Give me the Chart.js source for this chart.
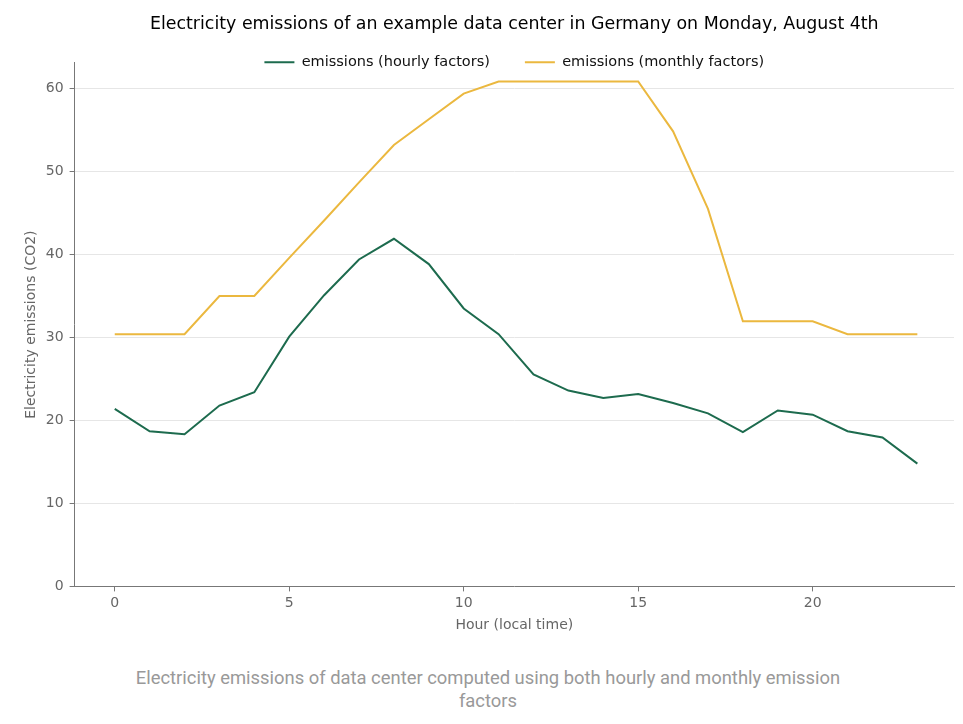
<!DOCTYPE html>
<html>
<head>
<meta charset="utf-8">
<script src="https://cdn.jsdelivr.net/npm/chart.js@4.4.1/dist/chart.umd.min.js"></script>
<style>
  body { margin: 0; background: #fff; }
  #wrap { width: 963px; height: 645px; }
  #caption {
    width: 740px;
    margin: 21px 0 0 118px;
    text-align: center;
    font-family: Roboto, sans-serif;
    font-size: 18.4px;
    line-height: 23px;
    color: #999;
  }
</style>
</head>
<body>
<div id="wrap"><canvas id="chart"></canvas></div>
<div id="caption">Electricity emissions of data center computed using both hourly and monthly emission factors</div>
<script>
const hours = [0, 1, 2, 3, 4, 5, 6, 7, 8, 9, 10, 11, 12, 13, 14, 15, 16, 17, 18, 19, 20, 21, 22, 23];
const hourlyEmissions = [21.4, 18.7, 18.35, 21.8, 23.4, 30.1, 35.1, 39.4, 41.9, 38.85, 33.5, 30.4,
  25.55, 23.6, 22.7, 23.2, 22.1, 20.85, 18.6, 21.2, 20.7, 18.7, 17.95, 14.8];
const monthlyEmissions = [30.4, 30.4, 30.4, 35.0, 35.0, 39.6, 44.1, 48.7, 53.2, 56.3, 59.4, 60.85,
  60.85, 60.85, 60.85, 60.85, 54.85, 45.5, 31.95, 31.95, 31.95, 30.4, 30.4, 30.4];
const xTicks = [0, 5, 10, 15, 20];
const yTicks = [0, 10, 20, 30, 40, 50, 60];

const FONT = "'DejaVu Sans', sans-serif";
const AXIS = "#777";

// legend overlaps the top edge of the plot: pull it up and widen its clip box
const legendNudge = {
  id: "legendNudge",
  afterLayout(chart) {
    const lg = chart.legend;
    if (lg) {
      lg.top -= 15;
      lg.bottom += 25;
    }
  },
};

const ctx = document.getElementById("chart");

new Chart(ctx, {
  type: "line",
  data: {
    datasets: [
      {
        label: "emissions (hourly factors)",
        data: hours.map((h, i) => ({ x: h, y: hourlyEmissions[i] })),
        borderColor: "#1d6b4e",
        backgroundColor: "#1d6b4e",
        borderWidth: 2,
      },
      {
        label: "emissions (monthly factors)",
        data: hours.map((h, i) => ({ x: h, y: monthlyEmissions[i] })),
        borderColor: "#ebb83f",
        backgroundColor: "#ebb83f",
        borderWidth: 2,
      },
    ],
  },
  plugins: [legendNudge],
  options: {
    responsive: true,
    maintainAspectRatio: false,
    animation: false,
    elements: {
      line: { tension: 0 },
      point: { radius: 0 },
    },
    layout: { padding: { left: 22, right: 9, top: 11, bottom: 7 } },
    plugins: {
      title: {
        display: true,
        text: "Electricity emissions of an example data center in Germany on Monday, August 4th",
        fullSize: false,
        color: "#000",
        font: { family: FONT, size: 17.4, weight: "normal" },
        padding: { top: 3, bottom: 0 },
      },
      legend: {
        position: "top",
        fullSize: false,
        maxHeight: 28,
        labels: {
          color: "#111",
          font: { family: FONT, size: 14.5 },
          boxWidth: 30,
          boxHeight: 2,
          padding: 35,
          generateLabels(chart) {
            return Chart.defaults.plugins.legend.labels
              .generateLabels(chart)
              .map((it) => ({ ...it, lineWidth: 0, fillStyle: it.strokeStyle }));
          },
        },
      },
      tooltip: { enabled: false },
    },
    scales: {
      x: {
        type: "linear",
        min: -1.15,
        max: 24.05,
        afterBuildTicks: (scale) => {
          scale.ticks = xTicks.map((v) => ({ value: v }));
        },
        grid: { drawOnChartArea: false, tickColor: AXIS, tickLength: 5 },
        border: { color: AXIS, width: 1 },
        ticks: { color: "#666", font: { family: FONT, size: 14 }, padding: 4 },
        title: {
          display: true,
          text: "Hour (local time)",
          color: "#666",
          font: { family: FONT, size: 14 },
          padding: { top: 1, bottom: 4 },
        },
      },
      y: {
        min: 0,
        max: 63.1,
        afterBuildTicks: (scale) => {
          scale.ticks = yTicks.map((v) => ({ value: v }));
        },
        grid: { color: "#e6e6e6", tickColor: AXIS, tickLength: 5 },
        border: { color: AXIS, width: 1 },
        ticks: { color: "#666", font: { family: FONT, size: 14 }, padding: 6 },
        title: {
          display: true,
          text: "Electricity emissions (CO2)",
          color: "#666",
          font: { family: FONT, size: 14 },
          padding: { top: 1, bottom: 0 },
        },
      },
    },
  },
});
</script>
</body>
</html>
